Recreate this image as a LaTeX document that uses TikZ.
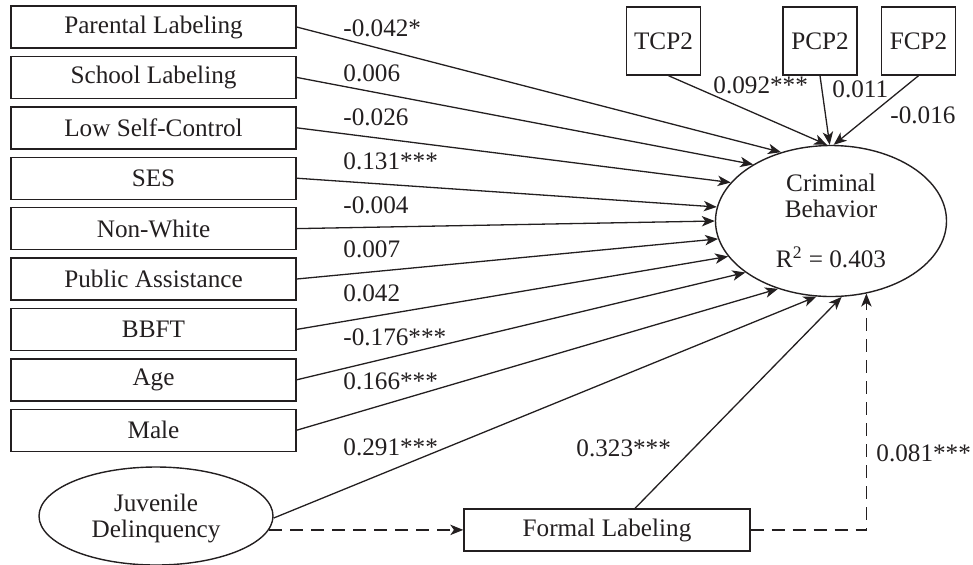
\documentclass[tikz,border=0pt]{standalone}
\usepackage{fontspec}
\setmainfont{Liberation Serif}
\usetikzlibrary{arrows.meta,shapes.geometric}
\definecolor{ink}{HTML}{231F20}
\begin{document}
\begin{tikzpicture}[x=0.5pt,y=-0.5pt,
  every node/.style={font=\fontsize{12.6}{13}\selectfont, text=ink},
  box/.style={draw=ink, line width=0.7pt, minimum width=142.5pt, minimum height=21pt, inner sep=0pt},
  sq/.style={draw=ink, line width=0.7pt, minimum width=37pt, minimum height=34pt, inner sep=0pt},
  oval/.style={ellipse, draw=ink, line width=0.7pt, inner sep=0pt, align=center},
  coef/.style={anchor=west, inner sep=0pt},
  arr/.style={draw=ink, line width=0.65pt, -{Stealth[length=6.5pt,width=5.2pt,inset=1.8pt]}},
  dsh/.style={dash pattern=on 6.5pt off 4pt}]
\useasboundingbox (0,0) rectangle (973,564);

% left predictor boxes
\node[box] (pl)  at (153.5,27)    {Parental Labeling};
\node[box] (sl)  at (153.5,77.4)  {School Labeling};
\node[box] (lsc) at (153.5,127.8) {Low Self-Control};
\node[box] (ses) at (153.5,178.2) {SES};
\node[box] (nw)  at (153.5,228.6) {Non-White};
\node[box] (pa)  at (153.5,279)   {Public Assistance};
\node[box] (bb)  at (153.5,329.4) {BBFT};
\node[box] (age) at (153.5,379.8) {Age};
\node[box] (ml)  at (153.5,430.2) {Male};

% top boxes
\node[sq] (tcp) at (663.5,41) {TCP2};
\node[sq] (pcp) at (820,41)   {PCP2};
\node[sq] (fcp) at (918.5,41) {FCP2};

% outcome
\node[oval, minimum width=115.5pt, minimum height=75.5pt] (cb) at (831,221)
  {Criminal\\Behavior\\[12pt]R\textsuperscript{2} = 0.403};

% juvenile delinquency
\node[oval, minimum width=117pt, minimum height=49pt, text depth=0pt] (jd) at (156,516)
  {Juvenile\\Delinquency};

% formal labeling
\node[box, minimum width=143pt] (fl) at (607,530) {Formal Labeling};

% arrows from left boxes
\draw[arr] (pl.east)  -- (cb.126.7);
\draw[arr] (sl.east)  -- (cb.144.4);
\draw[arr] (lsc.east) -- (cb.159.8);
\draw[arr] (ses.east) -- (cb.173);
\draw[arr] (nw.east)  -- (cb.180.5);
\draw[arr] (pa.east)  -- (cb.189.4);
\draw[arr] (bb.east)  -- (cb.199.6);
\draw[arr] (age.east) -- (cb.211.2);
\draw[arr] (ml.east)  -- (cb.232.7);
\draw[arr] (jd.359)   -- (cb.259.6);
\draw[arr] ([xshift=14pt]fl.north) -- (cb.278.5);

% arrows from top boxes
\draw[arr] ([xshift=2.5pt]tcp.south) -- (cb.93);
\draw[arr] (pcp.south) -- (cb.91);
\draw[arr] (fcp.south) -- (cb.88);

% dashed paths
\draw[arr, dsh] (jd.-7) -- (jd.-7 -| fl.west);
\draw[arr, dsh] (fl.east) -| (cb.296);

% coefficients
\node[coef] (c1)  at (343,28)  {-0.042*};
\node[coef] (c2)  at (343,73)  {0.006};
\node[coef] (c3)  at (343,117) {-0.026};
\node[coef] (c4)  at (343,161) {0.131***};
\node[coef] (c5)  at (343,205) {-0.004};
\node[coef] (c6)  at (343,249) {0.007};
\node[coef] (c7)  at (343,293) {0.042};
\node[coef] (c8)  at (343,337) {-0.176***};
\node[coef] (c9)  at (343,381) {0.166***};
\node[coef] (c10) at (343,447) {0.291***};
\node[coef] (c11) at (576,448) {0.323***};
\node[coef] (c12) at (876,453) {0.081***};
\node[coef] (c13) at (713,85)  {0.092***};
\node[coef] (c14) at (832,89)  {0.011};
\node[coef] (c15) at (890,115) {-0.016};
\end{tikzpicture}
\end{document}
